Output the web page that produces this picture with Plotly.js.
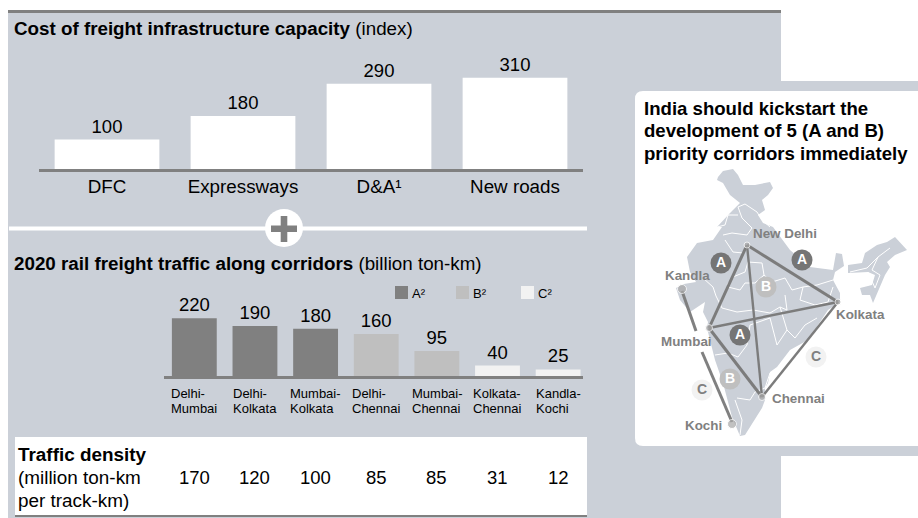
<!DOCTYPE html>
<html>
<head>
<meta charset="utf-8">
<script src="https://cdn.plot.ly/plotly-3.0.1.min.js"></script>
<style>html,body{margin:0;padding:0;background:#fff}</style>
</head>
<body>
<div id="chart" style="width:918px;height:518px"></div>
<script>
// ---- Chart values ----
const costCategories = ['DFC', 'Expressways', 'D&A\u00B9', 'New roads'];
const costValues = [100, 180, 290, 310];

const corridorNames = ['Delhi-Mumbai', 'Delhi-Kolkata', 'Mumbai-Kolkata', 'Delhi-Chennai', 'Mumbai-Chennai', 'Kolkata-Chennai', 'Kandla-Kochi'];
const trafficValues = [220, 190, 180, 160, 95, 40, 25];
const trafficClasses = ['A', 'A', 'A', 'B', 'B', 'C', 'C'];
const densityValues = [170, 120, 100, 85, 85, 31, 12];

const classNames = ['A', 'B', 'C'];
const classColors = {A: '#808080', B: '#bfbfbf', C: '#f2f2f2'};
const legendSwatchX = [395, 456, 521];

// ---- Map (page pixels) ----
const mapOutlineX = [718,723,733,738,743,755,770,773,768,762,765,758,763,773,790,810,833,836,842,844,835,833,840,840,828,817,808,790,777,770,768,765,765,762,753,745,740,732,723,715,710,707,708,703,705,698,690,680,676,684,696,690,687,697,713,722,717,730,740,730,723,717,718,null,
                    848,862,865,877,887,895,907,895,887,890,885,878,873,870,862,860,872,875,868,848,848];
const mapOutlineY = [177,171,169,175,185,185,182,188,195,200,210,215,223,227,250,267,270,253,254,266,272,280,293,302,310,327,340,350,367,372,383,388,400,408,423,435,436,417,383,360,340,328,322,312,302,307,312,300,288,284,282,272,257,243,240,227,227,213,203,195,183,180,177,null,
                    265,263,253,245,242,237,250,255,262,267,275,292,303,295,295,288,285,275,272,273,265];
const stateBorderX = [738,745,757,762,770,null,738,742,752,null,717,725,728,738,null,723,732,747,752,null,725,733,743,747,null,
                      703,713,716,722,737,753,770,780,null,727,733,745,748,762,764,755,745,740,728,null,764,772,785,792,803,817,833,null,
                      803,800,815,828,833,null,785,787,780,null,787,795,805,817,null,780,787,777,770,750,747,738,728,715,null,
                      737,750,755,765,770,null,735,742,740,null,
                      850,867,878,890,null,878,872,880,875,868];
const stateBorderY = [207,204,212,220,227,null,207,218,228,null,227,225,215,215,null,235,233,235,228,null,240,252,253,245,null,
                      278,287,296,308,312,310,313,307,null,285,277,272,262,263,275,283,283,290,287,null,275,282,278,290,287,285,280,null,
                      287,300,305,302,287,null,295,310,307,null,330,338,325,318,null,307,330,345,318,325,345,357,353,355,null,
                      398,400,392,388,373,null,400,420,435,null,
                      272,268,257,248,null,257,270,275,288,272];

const cityNames = ['New Delhi', 'Kolkata', 'Mumbai', 'Chennai', 'Kandla', 'Kochi'];
const cityX = [747, 838, 709, 762, 682, 732];
const cityY = [245, 302, 328, 397, 289, 424];
const citySizes = [6, 6, 7, 7, 9, 9];
const cityLabelX = [751, 834, 686, 770, 687, 703];
const cityLabelY = [233, 314, 341, 398, 275, 425];
const cityLabelAnchor = ['left', 'left', 'center', 'left', 'center', 'center'];

const heavyCorridors = [['New Delhi','Mumbai'], ['New Delhi','Kolkata'], ['Mumbai','Chennai']];
const lightCorridors = [['New Delhi','Chennai'], ['Mumbai','Kolkata'], ['Kolkata','Chennai']];
const coastCorridorX = [682, 696, null, 702, 732];
const coastCorridorY = [291, 331, null, 352, 422];

const badgeLabels = ['A', 'A', 'A', 'B', 'B', 'C', 'C'];
const badgeX = [721, 802, 740, 766, 730, 816, 702];
const badgeY = [263, 260, 335, 287, 379, 357, 390];

const calloutLines = ['India should kickstart the', 'development of 5 (A and B)', 'priority corridors immediately'];
const densityTitle = ['<b>Traffic density</b>', '(million ton-km', 'per track-km)'];

// ---- Helpers ----
const FONT = '"Liberation Sans", Arial, sans-serif';
const PANEL = '#cbd0d8';
const GREY = '#808080';
const W = 918, H = 518;

const ctx = document.createElement('canvas').getContext('2d');
function textWidth(s, size) { ctx.font = size + 'px "Liberation Sans"'; return ctx.measureText(s).width; }

function polyline(pairs) {
  const xs = [], ys = [];
  pairs.forEach(p => {
    p.forEach(n => { const i = cityNames.indexOf(n); xs.push(cityX[i]); ys.push(cityY[i]); });
    xs.push(null); ys.push(null);
  });
  return {x: xs, y: ys};
}
const rect = (x0, y0, x1, y1, c) => ({type:'rect', xref:'x', yref:'y', x0, y0, x1, y1, fillcolor:c, line:{width:0}, layer:'below'});
const note = (text, x, y, size, extra) => Object.assign({text, x, y, xref:'x', yref:'y', showarrow:false, xanchor:'left', yanchor:'middle', align:'left', font:{family:FONT, size, color:'#000'}}, extra||{});

const heavy = polyline(heavyCorridors), light = polyline(lightCorridors);

const traces = [
  {type:'scatter', mode:'lines', x:mapOutlineX, y:mapOutlineY, xaxis:'x', yaxis:'y', fill:'toself', fillcolor:PANEL, line:{width:0, color:PANEL}, hoverinfo:'skip', showlegend:false},
  {type:'scatter', mode:'lines', x:stateBorderX, y:stateBorderY, xaxis:'x', yaxis:'y', line:{width:1, color:'#fff'}, hoverinfo:'skip', showlegend:false},
  {type:'scatter', mode:'lines', x:light.x, y:light.y, xaxis:'x', yaxis:'y', line:{width:2.4, color:'#7c7c7c'}, hoverinfo:'skip', showlegend:false},
  {type:'scatter', mode:'lines', x:heavy.x, y:heavy.y, xaxis:'x', yaxis:'y', line:{width:3, color:'#7c7c7c'}, hoverinfo:'skip', showlegend:false},
  {type:'scatter', mode:'lines', x:coastCorridorX, y:coastCorridorY, xaxis:'x', yaxis:'y', line:{width:3, color:'#808080'}, hoverinfo:'skip', showlegend:false},
  {type:'scatter', mode:'markers', x:cityX, y:cityY, xaxis:'x', yaxis:'y', marker:{size:citySizes, color:'#a8a8a8'}, text:cityNames, hoverinfo:'text', showlegend:false},
  {type:'scatter', mode:'markers+text', x:badgeX, y:badgeY, xaxis:'x', yaxis:'y', text:badgeLabels.map(l => '<b>' + l + '</b>'), textposition:'middle center',
   marker:{size:21, color:badgeLabels.map(c => c==='A' ? '#757575' : classColors[c])},
   textfont:{family:FONT, size:14, color:badgeLabels.map(c => c==='C' ? GREY : '#fff')}, hoverinfo:'skip', showlegend:false},
  {type:'bar', x:costCategories, y:costValues, xaxis:'x2', yaxis:'y2', width:0.77, marker:{color:'#fff'}, text:costValues.map(String), textposition:'outside', cliponaxis:false, textfont:{family:FONT, size:18.5, color:'#000'}, showlegend:false},
  {type:'bar', x:corridorNames, y:trafficValues, xaxis:'x3', yaxis:'y3', width:0.74, marker:{color:trafficClasses.map(c => classColors[c])}, text:trafficValues.map(String), textposition:'outside', cliponaxis:false, textfont:{family:FONT, size:18.5, color:'#000'}, showlegend:false}
];

const shapes = [
  rect(8, 13, 781, H, PANEL),
  rect(781, 81, W, 456, PANEL),
  rect(8, 10, 781, 13, GREY),
  {type:'path', xref:'x', yref:'y', layer:'below', fillcolor:'#fff', line:{width:0},
   path:'M 643 91 L 918 91 L 918 446 L 643 446 Q 635 446 635 438 L 635 99 Q 635 91 643 91 Z'},
  rect(9, 226.5, 587, 230.5, '#fff'),
  {type:'circle', xref:'x', yref:'y', layer:'below', x0:265, x1:303, y0:209, y1:247, fillcolor:'#fff', line:{width:0}},
  rect(271, 225.5, 297, 232, GREY),
  rect(280.7, 216, 287.3, 242, GREY),
  rect(15, 437, 587, 515, '#fff'),
  rect(15, 515, 587, 517, GREY)
];

classNames.forEach((c, i) => shapes.push(rect(legendSwatchX[i], 286, legendSwatchX[i] + 13, 299, classColors[c])));

const annotations = [
  note('<b>Cost of freight infrastructure capacity</b> (index)', 12, 28, 18.8),
  note('<b>2020 rail freight traffic along corridors</b> (billion ton-km)', 12, 263, 18.8)
];
calloutLines.forEach((t, i) => annotations.push(note('<b>' + t + '</b>', 642, 108 + i*22.6, 18.6)));
classNames.forEach((c, i) => annotations.push(note(c + '\u00B2', legendSwatchX[i] + 15, 293, 13)));
corridorNames.forEach((n, i) => {
  const parts = n.split('-');
  const lines = [parts[0] + '-', parts[1]];
  const w = Math.max(textWidth(lines[0], 13), textWidth(lines[1], 13));
  lines.forEach((t, k) => annotations.push(note(t, i, 393 + k*15.5, 13, {xref:'x3', xshift:-w/2 - 2})));
});
densityValues.forEach((v, i) => annotations.push(note(String(v), i, 477, 18.5, {xref:'x3', xanchor:'center'})));
densityTitle.forEach((t, i) => annotations.push(note(t, 16, 454 + i*23, 18.9)));
cityNames.forEach((n, i) => annotations.push(note('<b>' + n + '</b>', cityLabelX[i], cityLabelY[i], 13.4, {xanchor:cityLabelAnchor[i], font:{family:FONT, size:13.4, color:GREY}})));

const dom = (a, b) => [a / W, b / W];
const vdom = (top, bottom) => [1 - bottom / H, 1 - top / H];

const layout = {
  width: W, height: H, autosize:false,
  margin:{l:0, r:0, t:0, b:0, pad:0},
  paper_bgcolor:'#fff', plot_bgcolor:'rgba(0,0,0,0)',
  showlegend:false,
  font:{family:FONT, color:'#000'},
  xaxis:{domain:[0,1], range:[0,W], visible:false, fixedrange:true},
  yaxis:{domain:[0,1], range:[H,0], visible:false, fixedrange:true},
  xaxis2:{anchor:'y2', type:'category', domain:dom(39,583), range:[-0.5,3.5], showline:true, linecolor:GREY, linewidth:3, ticks:'', showgrid:false, zeroline:false, tickfont:{family:FONT, size:18.8, color:'#000'}, ticklabelstandoff:-2, fixedrange:true},
  yaxis2:{anchor:'x2', domain:vdom(66,169), range:[0,350], visible:false, fixedrange:true},
  xaxis3:{anchor:'y3', type:'category', domain:dom(164,583), range:[-0.5,6.41], showline:true, linecolor:GREY, linewidth:3, ticks:'', showgrid:false, zeroline:false, showticklabels:false, fixedrange:true},
  yaxis3:{anchor:'x3', domain:vdom(313,376), range:[0,240], visible:false, fixedrange:true},
  shapes, annotations
};

Plotly.newPlot('chart', traces, layout, {displayModeBar:false, responsive:false});
</script>
</body>
</html>
